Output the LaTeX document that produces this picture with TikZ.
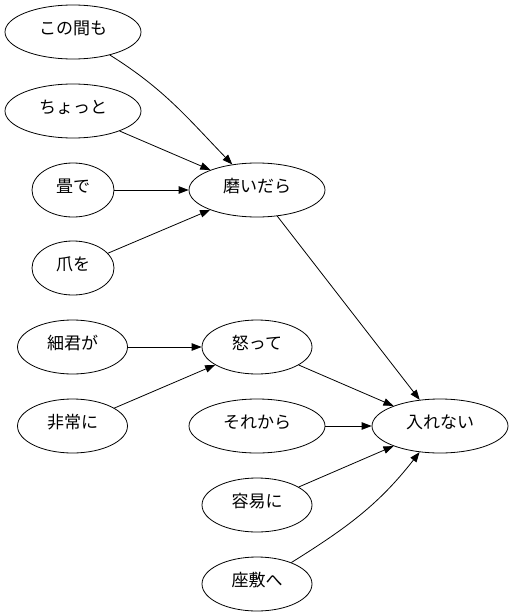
\documentclass[tikz,border=0pt]{standalone}
\usepackage{fontspec}
\newfontfamily\jp{Noto Sans CJK JP}
\usetikzlibrary{shapes.geometric,arrows.meta}
\begin{document}
\begin{tikzpicture}[x=1pt,y=-1pt,
  nd/.style={draw,ellipse,line width=0.8pt,inner sep=0pt,minimum height=54pt,
    font=\jp\fontsize{17}{19}\selectfont,text height=12pt,text depth=7pt},
  w4/.style={nd,minimum width=136pt},
  w3/.style={nd,minimum width=110pt},
  w2/.style={nd,minimum width=82pt},
  ar/.style={line width=0.8pt,-{Triangle[length=10pt,width=7.5pt]}}]
\useasboundingbox (0,0) rectangle (514,616);
\node[w4] (a) at (73,32) {この間も};
\node[w4] (b) at (73,111) {ちょっと};
\node[w2] (c) at (73,190) {畳で};
\node[w2] (d) at (73,268) {爪を};
\node[w4] (m) at (257,190) {磨いだら};
\node[w3] (e) at (72.5,347) {細君が};
\node[w3] (f) at (72.5,426) {非常に};
\node[w3] (o) at (257,347) {怒って};
\node[w4] (s) at (257,426) {それから};
\node[w4] (t) at (440,426) {入れない};
\node[w3] (y) at (257,505) {容易に};
\node[w3] (z) at (257,584) {座敷へ};
\draw[ar] (a) to[out=-32,in=134] (m);
\draw[ar] (b) -- (m);
\draw[ar] (c) -- (m);
\draw[ar] (d) -- (m);
\draw[ar] (m) -- (t);
\draw[ar] (e) -- (o);
\draw[ar] (f) -- (o);
\draw[ar] (o) -- (t);
\draw[ar] (s) -- (t);
\draw[ar] (y) -- (t);
\draw[ar] (z) to[out=32,in=-128] (t);
\end{tikzpicture}
\end{document}
